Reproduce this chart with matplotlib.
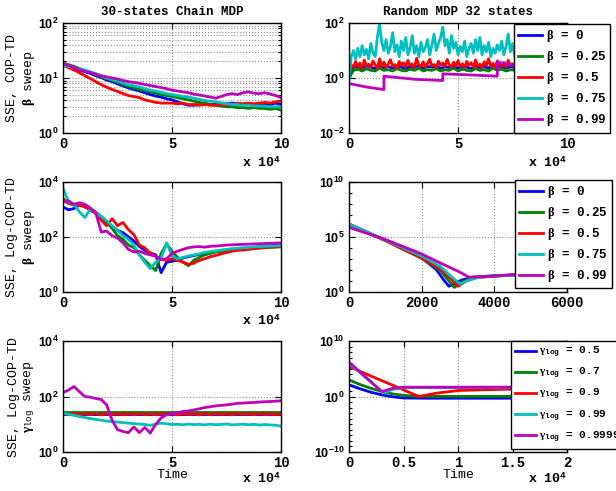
import matplotlib
matplotlib.use('Agg')
import matplotlib.pyplot as plt
from matplotlib.ticker import NullFormatter, LogLocator

plt.rcParams['mathtext.fontset'] = 'custom'
plt.rcParams['mathtext.rm'] = 'Liberation Serif'
plt.rcParams['mathtext.it'] = 'Liberation Serif:italic'
plt.rcParams['mathtext.bf'] = 'Liberation Sans:bold'
plt.rcParams['font.family'] = 'Liberation Mono'
plt.rcParams['font.weight'] = 'bold'

MONO = 'Liberation Mono'
SANS = 'Liberation Sans'
colors = ['#0000ff', '#008000', '#ff0000', '#00bfbf', '#bf00bf']

beta_labels = ['0', '0.25', '0.5', '0.75', '0.99']
gamma_labels = ['0.5', '0.7', '0.9', '0.99', '0.9999']

# ---------------- panel 1: chain MDP, COP-TD, beta sweep (x in 1e4)
t_a = [0, 0.25, 0.5, 0.75, 1, 1.25, 1.5, 1.75, 2, 2.25, 2.5, 2.75, 3, 3.25, 3.5, 3.75,
       4, 4.25, 4.5, 4.75, 5, 5.25, 5.5, 5.75, 6, 6.25, 6.5, 6.75, 7, 7.25, 7.5, 7.75,
       8, 8.25, 8.5, 8.75, 9, 9.25, 9.5, 9.75, 10]
a_blue = [17.0, 16.2, 15.1, 14.0, 13.0, 12.1, 11.0, 10.2, 9.2, 8.6, 7.8, 7.2, 6.6, 6.2,
          5.8, 5.4, 5.0, 4.7, 4.5, 4.2, 4.0, 3.7, 3.4, 3.2, 3.2, 3.3, 3.4, 3.3, 3.3, 3.5,
          3.4, 3.5, 3.4, 3.3, 3.4, 3.2, 3.3, 3.4, 3.3, 3.5, 3.3]
a_green = [18.5, 17.5, 16.3, 15.0, 13.5, 12.5, 11.5, 10.5, 9.7, 9.0, 8.3, 7.6, 7.0, 6.6,
           6.2, 5.9, 5.6, 5.3, 5.0, 4.8, 4.6, 4.4, 4.2, 4.0, 3.8, 3.6, 3.5, 3.3, 3.2, 3.1,
           3.0, 3.0, 2.9, 2.9, 2.8, 2.9, 2.8, 2.8, 2.7, 2.8, 2.6]
a_red = [17.0, 15.5, 14.0, 12.5, 11.0, 9.8, 8.6, 7.6, 6.8, 6.2, 5.7, 5.2, 4.8, 4.6, 4.4,
         4.0, 3.8, 3.6, 3.5, 3.5, 3.5, 3.4, 3.5, 3.3, 3.3, 3.2, 3.3, 3.2, 3.2, 3.3, 3.2,
         3.3, 3.5, 3.4, 3.5, 3.4, 3.5, 3.6, 3.5, 3.7, 3.8]
a_cyan = [17.0, 16.3, 15.5, 14.8, 14.0, 13.0, 12.0, 11.0, 10.0, 9.4, 8.8, 8.1, 7.5, 7.2,
          6.9, 6.4, 6.0, 5.8, 5.5, 5.2, 5.0, 4.8, 4.6, 4.5, 4.3, 4.1, 3.9, 3.8, 3.7, 3.5,
          3.4, 3.3, 3.3, 3.2, 3.2, 3.1, 3.1, 3.1, 3.0, 3.0, 3.0]
a_mag = [18.5, 17.0, 15.5, 14.2, 13.2, 12.6, 11.8, 11.0, 10.5, 10.0, 9.6, 9.0, 8.6, 8.3,
         8.0, 7.6, 7.3, 7.0, 6.7, 6.4, 6.0, 5.8, 5.6, 5.4, 5.1, 4.9, 4.7, 4.5, 4.3, 4.6,
         5.0, 5.2, 5.0, 5.4, 5.6, 5.3, 5.2, 5.4, 5.1, 4.8, 4.4]

# ---------------- panel 2: random MDP, COP-TD, beta sweep (x in 1e4)
t_b_fine = [0, 0.1, 0.2, 0.3, 0.4, 0.5, 0.6, 0.7, 0.8, 0.9,
            1, 1.1, 1.2, 1.3, 1.4, 1.5, 1.6, 1.7, 1.8, 1.9,
            2, 2.1, 2.2, 2.3, 2.4, 2.5, 2.6, 2.7, 2.8, 2.9,
            3, 3.1, 3.2, 3.3, 3.4, 3.5, 3.6, 3.7, 3.8, 3.9,
            4, 4.1, 4.2, 4.3, 4.4, 4.5, 4.6, 4.7, 4.8, 4.9,
            5, 5.1, 5.2, 5.3, 5.4, 5.5, 5.6, 5.7, 5.8, 5.9,
            6, 6.1, 6.2, 6.3, 6.4, 6.5, 6.6, 6.7, 6.8, 6.9,
            7, 7.1, 7.2, 7.3, 7.4, 7.5, 7.6, 7.7, 7.8, 7.9,
            8, 8.1, 8.2, 8.3, 8.4, 8.5, 8.6, 8.7, 8.8, 8.9,
            9, 9.1, 9.2, 9.3, 9.4, 9.5, 9.6, 9.7, 9.8, 9.9, 10]
t_b_coarse = [0, 0.2, 0.4, 0.6, 0.8, 1, 1.2, 1.4, 1.6, 1.8, 2, 2.2, 2.4, 2.6, 2.8, 3,
              3.2, 3.4, 3.6, 3.8, 4, 4.2, 4.4, 4.6, 4.8, 5, 5.2, 5.4, 5.6, 5.8, 6, 6.2,
              6.4, 6.6, 6.8, 7, 7.2, 7.4, 7.6, 7.8, 8, 8.2, 8.4, 8.6, 8.8, 9, 9.2, 9.4,
              9.6, 9.8, 10]
b_blue = [1.0, 2.4, 2.7, 2.3, 2.8, 2.5, 2.2, 2.9, 2.4, 2.6, 2.3, 2.8, 2.5, 2.2, 2.7, 2.4,
          2.9, 2.3, 2.6, 2.5, 2.8, 2.2, 2.6, 2.4, 2.9, 2.3, 2.7, 2.5, 2.2, 2.8, 2.4, 2.6,
          2.3, 2.9, 2.5, 2.7, 2.3, 2.6, 2.4, 2.8, 2.5, 2.3, 2.7, 2.4, 2.6, 2.9, 2.3, 2.5,
          2.7, 2.4, 2.6]
b_green = [1.0, 1.9, 2.1, 1.8, 2.2, 1.9, 1.8, 2.3, 1.9, 2.0, 1.8, 2.2, 1.9, 1.8, 2.1, 1.9,
           2.3, 1.8, 2.0, 1.9, 2.2, 1.8, 2.0, 1.9, 2.3, 1.8, 2.1, 1.9, 1.8, 2.2, 1.9, 2.0,
           1.8, 2.3, 1.9, 2.1, 1.8, 2.0, 1.9, 2.2, 2.0, 1.8, 2.1, 1.9, 2.0, 2.3, 1.8, 1.9,
           2.1, 1.9, 2.0]
b_red = [1.5, 3.0, 2.4, 4.0, 2.6, 3.5, 2.2, 4.5, 2.8, 3.2,
         2.5, 4.2, 3.0, 2.3, 5.0, 2.7, 3.8, 2.4, 3.3, 4.6,
         2.6, 3.1, 2.3, 4.0, 2.9, 3.6, 2.5, 4.4, 2.8, 3.2,
         2.4, 5.2, 3.0, 2.6, 3.9, 2.5, 3.4, 4.8, 2.7, 3.1,
         2.4, 4.1, 2.9, 3.5, 2.6, 4.7, 3.0, 2.5, 3.8, 2.8,
         4.3, 2.6, 3.3, 2.4, 4.0, 2.9, 3.6, 2.5, 4.5, 2.7,
         3.2, 2.4, 3.9, 2.8, 5.0, 2.6, 3.4, 2.5, 4.2, 3.0,
         2.7, 3.7, 2.5, 4.4, 2.8, 3.3, 2.6, 4.0, 2.9, 3.5,
         2.5, 4.1, 2.7, 3.2, 2.6, 4.6, 2.8, 3.4, 2.5, 3.9,
         2.7, 4.2, 2.9, 3.1, 2.6, 3.8, 2.5, 4.0, 2.8, 3.3, 2.6]
b_cyan = [0.8, 6, 10, 5, 12, 6, 15, 7, 11, 5,
          18, 8, 6, 30, 95, 20, 10, 25, 8, 14,
          45, 9, 16, 6, 22, 10, 30, 7, 12, 35,
          8, 15, 6, 20, 9, 13, 25, 7, 16, 40,
          10, 18, 30, 70, 15, 25, 8, 35, 12, 20,
          7, 14, 9, 22, 6, 12, 18, 8, 25, 10,
          30, 7, 15, 9, 20, 6, 12, 8, 16, 10,
          22, 7, 14, 40, 9, 18, 6, 15, 10, 20,
          8, 14, 25, 9, 18, 7, 30, 12, 16, 8,
          22, 10, 14, 35, 9, 18, 7, 20, 11, 15, 9]
t_b_mag = [0, 0.8, 1.6, 1.6, 3.0, 4.3, 4.3, 5.5, 6.8, 6.8, 7.7, 10]
b_mag = [0.63, 0.47, 0.38, 1.17, 0.9, 0.81, 1.42, 1.3, 1.17, 3.8, 2.7, 2.0]

# ---------------- panel 3: chain MDP, Log-COP-TD, beta sweep (x in 1e4)
c_blue = [1200, 950, 1050, 1400, 1300, 900, 750, 550, 330, 240, 170, 140, 100, 70, 45,
          32, 26, 22, 5, 12, 13, 14, 17, 19, 21, 23, 25, 27, 29, 31, 33, 34, 36, 37, 39,
          41, 43, 45, 47, 49, 50]
c_green = [2100, 1600, 1400, 1500, 1200, 1000, 700, 500, 350, 200, 110, 80, 50, 40, 22,
           14, 9, 6, 25, 55, 30, 18, 12, 9, 14, 18, 22, 25, 28, 30, 32, 33, 34, 35, 36,
           38, 39, 40, 41, 42, 43]
c_red = [2400, 1700, 1500, 1400, 1200, 1000, 700, 400, 250, 450, 250, 330, 180, 120, 50,
         40, 25, 20, 15, 14, 16, 14, 12, 10, 11, 14, 16, 19, 21, 24, 27, 30, 32, 33, 35,
         37, 39, 41, 43, 44, 45]
c_cyan = [5600, 1900, 1500, 800, 500, 1000, 800, 550, 380, 250, 170, 110, 80, 50, 22,
          12, 7, 12, 17, 60, 20, 16, 18, 20, 22, 24, 27, 29, 31, 33, 35, 37, 38, 40, 41,
          43, 44, 45, 46, 47, 48]
c_mag = [1870, 2000, 1500, 1700, 1500, 1100, 750, 150, 160, 110, 90, 60, 35, 28, 30, 25,
         22, 20, 15, 16, 25, 30, 35, 40, 43, 44, 42, 45, 46, 48, 50, 51, 52, 53, 54, 55,
         56, 57, 58, 59, 60]

# ---------------- panel 4: random MDP, Log-COP-TD, beta sweep (x in steps)
d_blue_t = [0, 1000, 2000, 2400, 2600, 2750, 2900, 3100, 3400, 4000, 5000, 6000]
d_blue = [1.4e6, 5e4, 1.2e3, 1.1e2, 13, 3.3, 6, 12, 22, 30, 40, 50]
d_green_t = [0, 1000, 2000, 2500, 2700, 2900, 3100, 3400, 4000, 5000, 6000]
d_green = [1.4e6, 4.5e4, 1.1e3, 1e2, 16, 2.6, 8, 20, 28, 40, 50]
d_red_t = [0, 1000, 2000, 2500, 2800, 3000, 3200, 3500, 4000, 5000, 6000]
d_red = [1.3e6, 4.5e4, 1.2e3, 1.3e2, 16, 3.3, 9, 20, 28, 40, 50]
d_cyan_t = [0, 1000, 2000, 2500, 2800, 3050, 3300, 3600, 4000, 5000, 6000]
d_cyan = [1.3e6, 5e4, 1.8e3, 2.2e2, 27, 5.4, 12, 22, 28, 40, 50]
d_mag_t = [0, 500, 1000, 2000, 2500, 3000, 3300, 4000, 4500, 5000, 6000]
d_mag = [7e5, 2e5, 5.6e4, 2.8e3, 4.4e2, 76, 22, 27, 38, 45, 55]

# ---------------- panel 5: chain MDP, Log-COP-TD, gamma_log sweep (x in 1e4)
t_e_flat = [0, 1, 2, 3, 4, 5, 6, 7, 8, 9, 10]
e_blue = [23, 23, 23, 23, 23, 23, 23, 23, 23, 23, 23]
e_green = [27, 27, 27, 27, 27, 27, 27, 27, 27, 27, 27]
e_red = [25, 22, 24.5, 22, 24, 22.5, 24.5, 21.8, 24, 22.3, 24.6, 22, 24.2, 21.9, 24.5,
         22.4, 24, 22, 24.6, 22.2, 24.3, 21.8, 24.5, 22.5, 24, 22, 24.4, 22.1, 24.6, 22.3,
         24, 21.9, 24.5, 22.4, 24.2, 22, 24.6, 22.2, 24.3, 22, 24.4]
e_cyan = [25, 23, 21, 19, 17.5, 16, 15, 14, 13, 12.5, 12, 11.5, 11, 10.5, 10.2, 9.8, 9.2,
          10, 11, 10.5, 9.8, 10, 9.6, 10.2, 9.7, 10, 9.5, 10.1, 9.6, 9.9, 10.3, 9.5, 9.8,
          10.1, 9.6, 9.9, 9.4, 9.8, 9.5, 9.2, 8.6]
e_mag = [140, 170, 230, 150, 100, 95, 85, 78, 50, 14, 6.4, 5.5, 5, 8, 5, 7.7, 4.8, 10,
         17, 22, 25, 26, 29, 30, 33, 36, 40, 43, 46, 48, 50, 53, 57, 58, 60, 61, 63, 65,
         66, 68, 70]

# ---------------- panel 6: random MDP, Log-COP-TD, gamma_log sweep (x in 1e4)
f_blue_t = [0, 0.1, 0.2, 0.3, 0.4, 0.5, 0.7, 1.0, 1.5, 2.0]
f_blue = [130, 25, 6, 2, 0.9, 0.55, 0.5, 0.5, 0.5, 0.5]
f_green_t = [0, 0.1, 0.2, 0.3, 0.4, 0.5, 0.6, 1.0, 2.0]
f_green = [1000, 150, 30, 8.7, 3, 1.6, 1.1, 1.05, 1.05]
f_red_t = [0, 0.2, 0.4, 0.64, 0.8, 1.0, 1.2, 1.5, 2.0]
f_red = [2.5e5, 5e3, 110, 1.0, 4, 12, 16, 22, 28]
f_cyan_t = [0, 0.32, 0.4, 0.5, 2.0]
f_cyan = [1e6, 4, 20, 40, 42]
f_mag_t = [0, 0.3, 0.35, 0.4, 0.5, 2.0]
f_mag = [1.6e6, 8, 15, 30, 48, 50]

fig = plt.figure(figsize=(6.16, 4.91), dpi=100)
W, H = 0.354, 0.224
ax1 = fig.add_axes([0.1023, 0.7291, W, H])
ax2 = fig.add_axes([0.5666, 0.7291, W, H])
ax3 = fig.add_axes([0.1023, 0.4053, W, 0.225])
ax4 = fig.add_axes([0.5666, 0.4053, W, 0.225])
ax5 = fig.add_axes([0.1023, 0.0794, W, 0.226])
ax6 = fig.add_axes([0.5666, 0.0794, W, 0.226])

LW = 2.0
for ys, c in zip([a_blue, a_green, a_red, a_cyan, a_mag], colors):
    ax1.plot(t_a, ys, color=c, lw=LW)

ax2.plot(t_b_coarse, b_blue, color=colors[0], lw=LW)
ax2.plot(t_b_coarse, b_green, color=colors[1], lw=LW)
ax2.plot(t_b_fine, b_red, color=colors[2], lw=LW)
ax2.plot(t_b_fine, b_cyan, color=colors[3], lw=LW)
ax2.plot(t_b_mag, b_mag, color=colors[4], lw=LW)

for ys, c in zip([c_blue, c_green, c_red, c_cyan, c_mag], colors):
    ax3.plot(t_a, ys, color=c, lw=LW)

for ts, ys, c in zip([d_blue_t, d_green_t, d_red_t, d_cyan_t, d_mag_t],
                     [d_blue, d_green, d_red, d_cyan, d_mag], colors):
    ax4.plot(ts, ys, color=c, lw=LW)

ax5.plot(t_e_flat, e_blue, color=colors[0], lw=LW)
ax5.plot(t_e_flat, e_green, color=colors[1], lw=LW)
ax5.plot(t_a, e_red, color=colors[2], lw=LW)
ax5.plot(t_a, e_cyan, color=colors[3], lw=LW)
ax5.plot(t_a, e_mag, color=colors[4], lw=LW)

for ts, ys, c in zip([f_blue_t, f_green_t, f_red_t, f_cyan_t, f_mag_t],
                     [f_blue, f_green, f_red, f_cyan, f_mag], colors):
    ax6.plot(ts, ys, color=c, lw=LW)


def style(ax, xlim, xticks, ylim, yexps):
    ax.set_yscale('log')
    ax.set_xlim(*xlim)
    ax.set_ylim(*ylim)
    ax.set_xticks(xticks)
    ax.set_xticklabels([('%g' % v) for v in xticks], fontfamily=MONO,
                       fontweight='bold', fontsize=10)
    ax.set_yticks([10.0 ** e for e in yexps])
    ax.set_yticklabels([r'$\mathdefault{10^{%d}}$' % e for e in yexps],
                       fontfamily=SANS, fontweight='bold', fontsize=9)
    ax.yaxis.set_minor_formatter(NullFormatter())
    ax.tick_params(which='both', direction='in', top=True, right=True,
                   width=0.8, pad=3)
    ax.tick_params(which='major', length=4)
    ax.tick_params(which='minor', length=2)
    ax.grid(True, which='major', linestyle=':', color='0.55', lw=0.8)
    for s in ax.spines.values():
        s.set_linewidth(1.0)


style(ax1, (0, 10), [0, 5, 10], (1, 100), [0, 1, 2])
ax1.yaxis.set_minor_locator(LogLocator(base=10, subs=range(2, 10)))
ax1.grid(True, which='minor', axis='y', linestyle=':', color='0.55', lw=0.8)
style(ax2, (0, 10), [0, 5, 10], (1e-2, 1e2), [-2, 0, 2])
style(ax3, (0, 10), [0, 5, 10], (1, 1e4), [0, 2, 4])
style(ax4, (0, 6000), [0, 2000, 4000, 6000], (1, 1e10), [0, 5, 10])
ax4.yaxis.set_minor_locator(LogLocator(base=10, subs=[1.0], numticks=20))
style(ax5, (0, 10), [0, 5, 10], (1, 1e4), [0, 2, 4])
style(ax6, (0, 2), [0, 0.5, 1, 1.5, 2], (1e-10, 1e10), [-10, 0, 10])
ax6.yaxis.set_minor_locator(LogLocator(base=10, subs=[1.0], numticks=30))

ax1.set_title('30-states Chain MDP', fontfamily=MONO, fontweight='bold',
              fontsize=9, pad=6)
ax2.set_title('Random MDP 32 states', fontfamily=MONO, fontweight='bold',
              fontsize=9, pad=6)

ax1.set_ylabel('SSE, COP-TD\n' + r'$\mathrm{\beta}$ sweep', fontsize=9.5,
               labelpad=1, linespacing=1.25)
ax3.set_ylabel('SSE, Log-COP-TD\n' + r'$\mathrm{\beta}$ sweep', fontsize=9.5,
               labelpad=1, linespacing=1.25)
ax5.set_ylabel('SSE, Log-COP-TD\n' + r'$\mathrm{\gamma}_{\mathdefault{log}}$ sweep',
               fontsize=9.5, labelpad=1, linespacing=1.25)

for ax in (ax5, ax6):
    ax.set_xlabel('Time', fontsize=9.5, labelpad=-1)

for ax, yy in ((ax1, -0.27), (ax2, -0.27), (ax3, -0.26), (ax5, -0.245), (ax6, -0.245)):
    ax.text(1.0, yy, r'x 10$^{\mathdefault{4}}$', transform=ax.transAxes,
            ha='right', va='center', fontfamily=MONO, fontweight='bold',
            fontsize=9.5)

leg_kw = dict(loc='upper left', bbox_transform=fig.transFigure, fancybox=False,
              edgecolor='k', framealpha=1, borderaxespad=0, handlelength=1.9,
              handletextpad=0.3, borderpad=0.35)
for ax, anchor in ((ax2, (0.834, 0.951)), (ax4, (0.836, 0.634))):
    leg = ax.legend([r'$\mathrm{\beta}$ = ' + b for b in beta_labels],
                    bbox_to_anchor=anchor, labelspacing=0.4,
                    prop={'family': MONO, 'weight': 'bold', 'size': 9}, **leg_kw)
    leg.get_frame().set_linewidth(1.0)

leg = ax6.legend([r'$\mathrm{\gamma}_{\mathdefault{log}}$ = ' + g for g in gamma_labels],
                 bbox_to_anchor=(0.8295, 0.3055), labelspacing=0.55,
                 prop={'family': MONO, 'weight': 'bold', 'size': 8}, **leg_kw)
leg.get_frame().set_linewidth(1.0)

fig.savefig('out.png', dpi=100)
